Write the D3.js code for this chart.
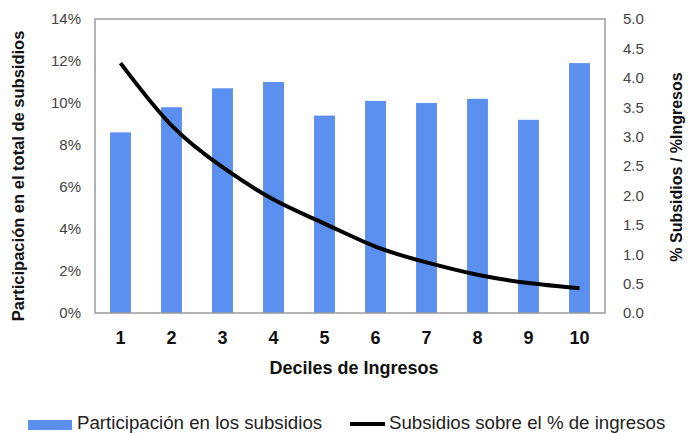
<!DOCTYPE html>
<html>
<head>
<meta charset="utf-8">
<script src="https://cdn.jsdelivr.net/npm/d3@7"></script>
<style>
  html, body { margin: 0; padding: 0; background: #fff; }
  svg { display: block; font-family: "Liberation Sans", Arial, sans-serif; }
</style>
</head>
<body>
<svg id="chart" width="688" height="433"></svg>
<script>
// Income deciles on the x axis
const deciles = ["1", "2", "3", "4", "5", "6", "7", "8", "9", "10"];
// Share of total subsidies per decile (%), left axis
const participacion = [8.6, 9.8, 10.7, 11.0, 9.4, 10.1, 10.0, 10.2, 9.2, 11.9];
// Subsidies relative to income share, right axis
const subsidiosIngresos = [4.25, 3.19, 2.48, 1.93, 1.52, 1.13, 0.86, 0.65, 0.51, 0.42];
// Tick values
const leftTicks = [0, 2, 4, 6, 8, 10, 12, 14];
const rightTicks = [0, 0.5, 1, 1.5, 2, 2.5, 3, 3.5, 4, 4.5, 5];

const svg = d3.select("#chart");
const m = { left: 95, right: 605, top: 19, bottom: 313 };

const x = d3.scaleBand()
  .domain(deciles)
  .range([m.left, m.right])
  .paddingInner(0.59)
  .paddingOuter(0.295);

const yL = d3.scaleLinear().domain([0, 14]).range([m.bottom, m.top]);
const yR = d3.scaleLinear().domain([0, 5]).range([m.bottom, m.top]);

// Bars
svg.append("g")
  .selectAll("rect")
  .data(participacion)
  .join("rect")
  .attr("x", (d, i) => x(deciles[i]))
  .attr("width", x.bandwidth())
  .attr("y", d => yL(d))
  .attr("height", d => yL(0) - yL(d))
  .attr("fill", "#5b8ff0");

// Plot frame
svg.append("rect")
  .attr("x", m.left)
  .attr("y", m.top)
  .attr("width", m.right - m.left)
  .attr("height", m.bottom - m.top)
  .attr("fill", "none")
  .attr("stroke", "#9a9a9a")
  .attr("stroke-width", 1.5);

// Smoothed line
const line = d3.line()
  .x((d, i) => x(deciles[i]) + x.bandwidth() / 2)
  .y(d => yR(d))
  .curve(d3.curveNatural);

svg.append("path")
  .datum(subsidiosIngresos)
  .attr("d", line)
  .attr("fill", "none")
  .attr("stroke", "#000")
  .attr("stroke-width", 4)
  .attr("stroke-linecap", "butt");

// Left axis
const axL = svg.append("g")
  .attr("transform", `translate(${m.left},0)`)
  .call(d3.axisLeft(yL).tickValues(leftTicks).tickSize(0).tickPadding(14)
    .tickFormat(d => d + "%"));
axL.select(".domain").remove();
axL.selectAll("text")
  .attr("font-size", 15)
  .attr("font-family", "'Liberation Sans', Arial, sans-serif")
  .attr("fill", "#444");

// Right axis
const axR = svg.append("g")
  .attr("transform", `translate(${m.right},0)`)
  .call(d3.axisRight(yR).tickValues(rightTicks).tickSize(0).tickPadding(18)
    .tickFormat(d3.format(".1f")));
axR.select(".domain").remove();
axR.selectAll("text")
  .attr("font-size", 15)
  .attr("font-family", "'Liberation Sans', Arial, sans-serif")
  .attr("fill", "#444");

// Bottom axis
const axB = svg.append("g")
  .attr("transform", `translate(0,${m.bottom})`)
  .call(d3.axisBottom(x).tickSize(0).tickPadding(18));
axB.select(".domain").remove();
axB.selectAll("text")
  .attr("font-size", 18)
  .attr("font-weight", "bold")
  .attr("font-family", "'Liberation Sans', Arial, sans-serif")
  .attr("fill", "#111");

// Axis titles
svg.append("text")
  .attr("transform", "translate(24,176) rotate(-90)")
  .attr("text-anchor", "middle")
  .attr("font-size", 16.5)
  .attr("font-weight", "bold")
  .attr("fill", "#111")
  .text("Participación en el total de subsidios");

svg.append("text")
  .attr("transform", "translate(682,167) rotate(-90)")
  .attr("text-anchor", "middle")
  .attr("font-size", 16)
  .attr("font-weight", "bold")
  .attr("fill", "#111")
  .text("% Subsidios / %Ingresos");

svg.append("text")
  .attr("x", 354)
  .attr("y", 374)
  .attr("text-anchor", "middle")
  .attr("font-size", 18)
  .attr("font-weight", "bold")
  .attr("fill", "#111")
  .text("Deciles de Ingresos");

// Legend
const legend = svg.append("g");
legend.append("rect")
  .attr("x", 28).attr("y", 420).attr("width", 44).attr("height", 10)
  .attr("fill", "#5b8ff0");
legend.append("text")
  .attr("x", 77).attr("y", 429)
  .attr("font-size", 18.7)
  .attr("fill", "#222")
  .text("Participación en los subsidios");
legend.append("line")
  .attr("x1", 350).attr("x2", 385).attr("y1", 424).attr("y2", 424)
  .attr("stroke", "#000").attr("stroke-width", 4);
legend.append("text")
  .attr("x", 389).attr("y", 429)
  .attr("font-size", 18.7)
  .attr("fill", "#222")
  .text("Subsidios sobre el % de ingresos");
</script>
</body>
</html>
